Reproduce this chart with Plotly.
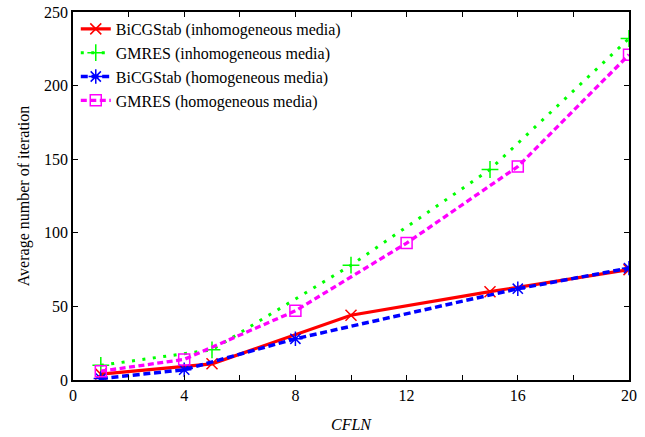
import plotly.graph_objects as go

# Data
bicg_inh_x = [1, 5, 10, 15, 20]
bicg_inh_y = [4, 11, 44, 60, 75]
gmres_inh_x = [1, 5, 10, 15, 20]
gmres_inh_y = [10, 20.5, 78, 143, 232]
bicg_hom_x = [1, 4, 8, 16, 20]
bicg_hom_y = [1, 7, 28, 62, 76]
gmres_hom_x = [1, 4, 8, 12, 16, 20]
gmres_hom_y = [6, 14, 47, 93, 145, 221]

x_tickvals = [0, 2, 4, 6, 8, 10, 12, 14, 16, 18, 20]
x_ticktext = ['0', '', '4', '', '8', '', '12', '', '16', '', '20']
y_tickvals = [0, 50, 100, 150, 200, 250]

FONT = "Times New Roman, Liberation Serif, serif"

fig = go.Figure()
fig.add_trace(go.Scatter(
    x=bicg_inh_x, y=bicg_inh_y, mode='lines+markers',
    name='BiCGStab (inhomogeneous media)',
    line=dict(color='#ff0000', width=3.2, dash='solid'),
    marker=dict(symbol='x-thin', size=11, line=dict(color='#ff0000', width=1.5))))
fig.add_trace(go.Scatter(
    x=gmres_inh_x, y=gmres_inh_y, mode='lines+markers',
    name='GMRES (inhomogeneous media)',
    line=dict(color='#00ff00', width=3, dash='3px,7.5px'),
    marker=dict(symbol='cross-thin', size=12, line=dict(color='#00ff00', width=1.5))))
fig.add_trace(go.Scatter(
    x=bicg_hom_x, y=bicg_hom_y, mode='lines+markers',
    name='BiCGStab (homogeneous media)',
    line=dict(color='#0000ff', width=3.5, dash='7px,3.7px'),
    marker=dict(symbol='asterisk-open', size=12, color='#0000ff', line=dict(color='#0000ff', width=1.5))))
fig.add_trace(go.Scatter(
    x=gmres_hom_x, y=gmres_hom_y, mode='lines+markers',
    name='GMRES (homogeneous media)',
    line=dict(color='#ff00ff', width=3.3, dash='6px,3.5px'),
    marker=dict(symbol='square-open', size=11, color='#ff00ff', line=dict(color='#ff00ff', width=1.5))))

axis_common = dict(showline=True, linecolor='black', linewidth=1.5, mirror='ticks',
                   ticks='inside', ticklen=5, tickcolor='black', tickwidth=1,
                   showgrid=False, zeroline=False, ticklabeloverflow='allow',
                   tickfont=dict(family=FONT, size=16, color='black'))

fig.update_xaxes(range=[0, 20], tickvals=x_tickvals, ticktext=x_ticktext,
                 title=dict(text='<i>CFLN</i>', font=dict(family=FONT, size=16, color='black'), standoff=16),
                 **axis_common)
fig.update_yaxes(range=[0, 250], tickvals=y_tickvals,
                 title=dict(text='Average number of iteration', font=dict(family=FONT, size=16, color='black'), standoff=10),
                 **axis_common)

fig.update_layout(
    width=645, height=437,
    margin=dict(l=73, r=16, t=4, b=57),
    paper_bgcolor='white', plot_bgcolor='white',
    font=dict(family=FONT, size=16, color='black'),
    legend=dict(x=0.005, y=1.0, xanchor='left', yanchor='top',
                bgcolor='rgba(255,255,255,0)', borderwidth=0,
                font=dict(family=FONT, size=16, color='black'),
                tracegroupgap=0, itemwidth=30),
)

fig.write_html("out.html", config={'displayModeBar': False},
               post_script="document.body.style.margin='0';")
